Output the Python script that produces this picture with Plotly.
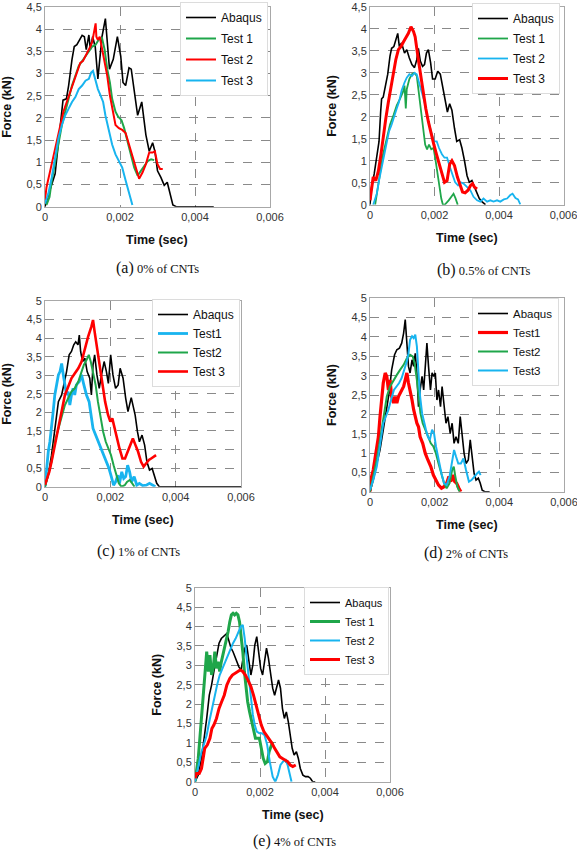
import plotly.graph_objects as go

# ---------------- data: (time in ms, force in kN) ----------------
# (a) 0% of CNTs
A_ABAQUS = [(0,0),(0.06,0.15),(0.13,0.37),(0.27,0.74),(0.36,1.47),(0.42,2.06),(0.48,2.4),(0.57,2.43),(0.63,2.73),
            (0.72,3.32),(0.78,3.61),(0.85,3.65),(0.92,3.76),(0.99,3.86),(1.05,3.83),(1.1,3.54),(1.17,3.87),(1.21,3.54),
            (1.27,3.83),(1.34,3.6),(1.41,2.88),(1.52,3.83),(1.61,4.24),(1.66,3.76),(1.72,3.1),(1.82,3.32),(1.93,3.83),
            (2.02,3.39),(2.08,2.8),(2.15,2.73),(2.24,3.13),(2.3,3.1),(2.38,2.58),(2.47,2.06),(2.58,2.36),(2.69,1.62),
            (2.78,1.25),(2.87,1.44),(2.93,1.25),(3.0,0.81),(3.09,0.66),(3.18,0.48),(3.26,0.55),(3.35,0.22),(3.41,0.04),
            (3.5,0),(4.5,0)]
A_TEST1 = [(0.04,0.04),(0.12,0.22),(0.18,0.59),(0.27,1.03),(0.36,1.47),(0.45,1.84),(0.54,2.14),(0.63,2.43),(0.72,2.73),
           (0.81,2.95),(0.9,3.17),(0.99,3.28),(1.08,3.39),(1.17,3.5),(1.26,3.61),(1.35,3.65),(1.43,3.76),(1.52,3.8),
           (1.59,3.54),(1.66,3.1),(1.73,2.8),(1.79,2.43),(1.88,2.14),(1.95,2.03),(2.04,1.95),(2.11,1.77),(2.2,1.47),
           (2.29,1.18),(2.38,0.88),(2.47,0.7),(2.56,0.81),(2.65,0.92),(2.74,1.03),(2.83,1.07),(2.91,1.05)]
A_TEST2 = [(0,0.15),(0.04,0.44),(0.12,0.74),(0.18,0.96),(0.24,1.18),(0.31,1.47),(0.4,1.84),(0.49,2.14),(0.58,2.36),
           (0.67,2.58),(0.76,2.8),(0.85,3.06),(0.94,3.24),(1.01,3.28),(1.08,3.39),(1.17,3.54),(1.21,3.61),(1.26,3.72),
           (1.3,3.91),(1.35,4.13),(1.37,3.83),(1.41,3.76),(1.46,3.83),(1.51,3.61),(1.57,3.32),(1.66,2.95),(1.73,2.51),
           (1.79,2.21),(1.88,1.84),(1.97,1.77),(2.06,1.73),(2.15,1.66),(2.24,1.4),(2.33,1.11),(2.42,0.85),(2.51,0.63),
           (2.6,0.77),(2.69,0.96),(2.78,1.22),(2.87,1.22),(2.93,1.25),(3.0,0.96),(3.07,0.85),(3.14,0.85)]
A_TEST3 = [(0,0.07),(0.09,0.3),(0.18,0.66),(0.27,1.1),(0.36,1.55),(0.45,1.84),(0.54,2.06),(0.63,2.21),(0.72,2.36),
           (0.81,2.47),(0.9,2.65),(0.99,2.73),(1.08,2.84),(1.17,2.88),(1.23,3.02),(1.28,3.06),(1.35,2.8),(1.41,2.65),
           (1.48,2.51),(1.55,2.36),(1.61,2.06),(1.7,1.7),(1.79,1.4),(1.88,1.18),(1.97,1.03),(2.06,0.88),(2.15,0.59),
           (2.24,0.3),(2.33,0.04)]

# (b) 0.5% of CNTs
B_ABAQUS = [(0,0),(0.05,0.4),(0.13,0.7),(0.21,1.07),(0.28,1.44),(0.33,2.11),(0.36,2.41),(0.41,2.45),(0.49,2.71),
            (0.55,2.97),(0.62,3.38),(0.67,3.56),(0.74,3.6),(0.8,3.75),(0.86,3.9),(0.91,3.6),(0.98,3.68),(1.07,3.45),
            (1.14,3.53),(1.22,3.34),(1.3,3.19),(1.38,3.12),(1.45,3.3),(1.5,3.56),(1.56,3.27),(1.63,3.15),(1.69,3.19),
            (1.75,3.45),(1.81,3.53),(1.88,3.23),(1.94,2.86),(2.02,2.86),(2.1,3.04),(2.18,2.97),(2.25,2.71),(2.33,2.34),
            (2.4,2.11),(2.47,2.3),(2.54,2.15),(2.62,1.74),(2.69,1.44),(2.78,1.48),(2.85,1.29),(2.93,1.0),(3.01,0.66),
            (3.08,0.51),(3.16,0.55),(3.24,0.4),(3.32,0.25),(3.39,0.14),(3.47,0.07),(3.58,0)]
B_TEST1 = [(0.16,0),(0.24,0.33),(0.31,0.7),(0.38,1.07),(0.47,1.37),(0.55,1.59),(0.62,1.82),(0.73,2.04),(0.83,2.26),
           (0.93,2.41),(1.02,2.56),(1.07,2.71),(1.11,2.19),(1.14,2.63),(1.22,2.86),(1.3,2.97),(1.38,3.0),(1.45,2.93),
           (1.5,2.63),(1.56,2.26),(1.61,1.89),(1.66,1.59),(1.71,1.37),(1.77,1.26),(1.83,1.37),(1.9,1.26),(1.97,1.29),
           (2.02,1.07),(2.08,0.77),(2.15,0.4),(2.21,0.14),(2.26,0),(2.33,0.01),(2.44,0.1),(2.52,0.18),(2.59,0.25),
           (2.65,0.15),(2.72,0)]
B_TEST2 = [(0.1,0),(0.21,0.25),(0.28,0.55),(0.36,0.85),(0.45,1.22),(0.52,1.44),(0.59,1.67),(0.67,1.82),(0.76,2.0),
           (0.83,2.19),(0.9,2.34),(0.98,2.6),(1.07,2.78),(1.14,2.89),(1.22,2.97),(1.3,2.93),(1.38,3.0),(1.45,2.97),
           (1.52,2.78),(1.61,2.56),(1.69,2.34),(1.76,2.04),(1.83,1.82),(1.92,1.59),(2.0,1.44),(2.07,1.44),(2.14,1.29),
           (2.23,1.15),(2.31,1.07),(2.39,1.07),(2.48,0.85),(2.56,0.66),(2.64,0.51),(2.73,0.44),(2.81,0.51),(2.9,0.48),
           (3.01,0.4),(3.11,0.33),(3.21,0.18),(3.32,0.1),(3.42,0.07),(3.52,0.14),(3.63,0.07),(3.73,0.1),(3.83,0.07),
           (3.94,0.1),(4.04,0.07),(4.15,0.12),(4.25,0.14),(4.35,0.22),(4.42,0.25),(4.51,0.15),(4.59,0.12),(4.66,0.01)]
B_TEST3 = [(0,0.1),(0.05,0.4),(0.1,0.63),(0.18,0.55),(0.26,0.77),(0.34,1.15),(0.41,1.59),(0.49,1.96),(0.57,2.34),
           (0.65,2.71),(0.73,3.08),(0.8,3.3),(0.88,3.53),(0.96,3.6),(1.04,3.71),(1.11,3.79),(1.19,3.9),(1.27,4.05),
           (1.35,3.94),(1.4,3.82),(1.45,3.6),(1.5,3.3),(1.59,2.86),(1.66,2.49),(1.73,2.19),(1.81,1.89),(1.9,1.59),
           (1.98,1.37),(2.06,1.15),(2.15,0.92),(2.23,0.7),(2.31,0.51),(2.39,0.55),(2.47,0.92),(2.54,1.0),(2.62,0.89),
           (2.71,0.63),(2.79,0.44),(2.87,0.29),(2.95,0.27),(3.04,0.33),(3.12,0.44),(3.18,0.48),(3.24,0.4),(3.32,0.36)]

# (c) 1% of CNTs
C_ABAQUS = [(0,0),(0.1,0.31),(0.2,0.85),(0.3,1.57),(0.41,2.29),(0.51,2.47),(0.58,2.74),(0.66,3.1),(0.74,3.55),
            (0.81,3.64),(0.88,3.82),(0.94,3.9),(1.01,3.82),(1.05,4.08),(1.09,3.64),(1.15,3.37),(1.22,3.46),(1.29,3.1),
            (1.37,2.92),(1.42,2.47),(1.47,3.28),(1.52,3.55),(1.59,3.01),(1.66,2.65),(1.73,3.01),(1.81,3.37),(1.88,3.1),
            (1.94,2.78),(2.01,3.55),(2.08,3.01),(2.16,2.65),(2.24,2.74),(2.3,3.19),(2.39,2.92),(2.47,2.38),(2.54,2.02),
            (2.64,2.4),(2.7,2.2),(2.76,1.93),(2.83,1.48),(2.89,1.21),(2.97,1.39),(3.05,1.12),(3.12,0.67),(3.2,0.45),
            (3.28,0.49),(3.35,0.27),(3.42,0.09),(3.5,0),(6.0,0)]
C_TEST1 = [(0,0),(0.05,0.49),(0.1,0.94),(0.15,1.21),(0.2,1.57),(0.25,2.02),(0.3,2.47),(0.36,2.74),(0.41,3.01),
           (0.46,3.1),(0.51,3.32),(0.56,3.01),(0.61,2.74),(0.66,2.47),(0.71,2.56),(0.76,2.2),(0.81,2.47),(0.86,2.65),
           (0.91,2.47),(0.96,2.74),(1.05,2.83),(1.12,3.01),(1.19,2.74),(1.27,2.47),(1.35,2.29),(1.42,1.93),(1.47,1.57),
           (1.55,1.39),(1.63,1.21),(1.72,1.03),(1.8,0.85),(1.88,0.67),(1.96,0.49),(2.03,0.27),(2.1,0.04),(2.16,0.13),
           (2.23,0.31),(2.28,0.09),(2.35,0.4),(2.41,0.22),(2.47,0.27),(2.53,0.58),(2.59,0.4),(2.65,0.13),(2.73,0.27),
           (2.81,0.04),(2.89,0.09),(2.99,0.03),(3.1,0.04),(3.2,0.09),(3.3,0.04),(3.38,0)]
C_TEST2 = [(0,0),(0.1,0.31),(0.2,0.67),(0.3,1.21),(0.41,1.57),(0.51,1.93),(0.61,2.2),(0.71,2.38),(0.81,2.56),
           (0.91,2.65),(1.02,2.83),(1.12,3.1),(1.19,3.28),(1.27,3.41),(1.34,3.55),(1.4,3.37),(1.47,3.1),(1.55,2.74),
           (1.62,2.29),(1.7,1.84),(1.78,1.48),(1.86,1.21),(1.94,1.03),(2.02,0.85),(2.1,0.58),(2.18,0.31),(2.26,0.09),
           (2.34,0),(2.44,0.04),(2.51,0.13),(2.59,0.18),(2.67,0.09),(2.74,0)]
C_TEST3 = [(0,0.05),(0.05,0.18),(0.13,0.4),(0.2,0.67),(0.3,1.12),(0.41,1.57),(0.51,2.11),(0.61,2.47),(0.71,2.69),
           (0.81,2.92),(0.91,3.05),(1.02,3.19),(1.12,3.37),(1.22,3.73),(1.32,4.04),(1.42,4.31),(1.47,4.49),(1.52,4.17),
           (1.59,3.73),(1.68,3.19),(1.76,2.65),(1.84,2.29),(1.93,1.93),(2.0,1.75),(2.06,1.84),(2.13,1.57),(2.2,1.3),
           (2.28,1.03),(2.37,0.76),(2.45,0.76),(2.53,0.94),(2.61,1.12),(2.69,1.3),(2.77,1.12),(2.85,0.94),(2.94,0.67),
           (3.02,0.54),(3.1,0.63),(3.18,0.72),(3.25,0.76),(3.32,0.81),(3.4,0.85)]

# (d) 2% of CNTs
D_ABAQUS = [(0,0),(0.1,0.3),(0.21,0.73),(0.31,1.08),(0.41,1.6),(0.52,2.2),(0.59,2.55),(0.67,3.15),(0.76,3.54),
            (0.83,3.67),(0.91,3.71),(0.98,3.84),(1.04,4.1),(1.09,4.45),(1.14,3.93),(1.19,3.24),(1.24,3.07),(1.3,3.41),
            (1.35,3.24),(1.4,3.58),(1.45,3.07),(1.5,2.2),(1.55,2.63),(1.61,2.98),(1.66,2.63),(1.71,3.41),(1.76,3.84),
            (1.81,3.24),(1.87,2.63),(1.92,3.07),(1.97,2.98),(2.02,3.07),(2.07,2.37),(2.12,2.63),(2.18,2.2),(2.23,2.72),
            (2.29,2.29),(2.35,1.77),(2.41,1.94),(2.48,1.51),(2.54,1.77),(2.6,1.25),(2.66,1.42),(2.73,1.25),(2.79,1.94),
            (2.85,1.51),(2.91,0.99),(2.97,0.73),(3.04,0.82),(3.1,1.34),(3.16,0.91),(3.22,0.47),(3.28,0.3),(3.35,0.35),
            (3.41,0.22),(3.47,0.04),(3.55,0),(3.7,0)]
D_TEST1 = [(0,0),(0.05,0.39),(0.1,0.56),(0.16,0.91),(0.21,1.17),(0.26,1.42),(0.31,1.94),(0.36,2.46),(0.41,2.81),
           (0.47,3.07),(0.52,2.98),(0.57,2.63),(0.62,2.89),(0.67,2.46),(0.73,2.29),(0.78,2.46),(0.83,2.29),(0.88,2.46),
           (0.93,2.55),(0.98,2.63),(1.04,2.72),(1.09,2.89),(1.14,3.07),(1.19,2.81),(1.24,2.63),(1.3,2.37),(1.35,2.12),
           (1.4,1.94),(1.45,1.77),(1.5,1.68),(1.55,1.42),(1.63,1.25),(1.71,0.99),(1.79,0.82),(1.88,0.65),(1.96,0.43),
           (2.04,0.3),(2.12,0.17),(2.21,0.09),(2.29,0.13),(2.37,0.22),(2.44,0.39),(2.5,0.26),(2.56,0.43),(2.62,0.26),
           (2.68,0.22),(2.75,0.09),(2.81,0)]
D_TEST2 = [(0,0),(0.1,0.39),(0.21,0.82),(0.31,1.34),(0.41,1.94),(0.52,2.46),(0.62,2.72),(0.73,2.89),(0.83,3.02),
           (0.93,3.15),(1.04,3.28),(1.14,3.45),(1.24,3.54),(1.32,3.5),(1.38,3.32),(1.45,2.89),(1.5,2.46),(1.56,2.03),
           (1.63,1.77),(1.71,1.6),(1.79,1.42),(1.88,1.25),(1.96,1.17),(2.04,0.99),(2.12,0.73),(2.21,0.47),(2.29,0.22),
           (2.37,0.09),(2.46,0.22),(2.54,0.56),(2.59,0.65),(2.64,0.39),(2.7,0.13),(2.77,0)]
D_TEST3 = [(0,0.04),(0.1,0.3),(0.21,0.65),(0.31,1.17),(0.41,1.77),(0.49,1.94),(0.57,2.12),(0.65,2.37),(0.74,2.63),
           (0.82,2.72),(0.9,2.81),(0.98,2.94),(1.07,3.15),(1.14,3.37),(1.19,3.58),(1.24,3.93),(1.3,4.02),(1.35,3.97),
           (1.4,4.06),(1.45,3.76),(1.5,3.07),(1.55,2.46),(1.61,2.03),(1.67,1.77),(1.73,1.6),(1.79,1.42),(1.85,1.34),
           (1.92,1.6),(1.98,1.51),(2.04,1.17),(2.12,0.82),(2.21,0.47),(2.29,0.22),(2.37,0.17),(2.46,0.39),(2.54,0.73),
           (2.6,1.08),(2.66,0.91),(2.73,0.73),(2.81,0.73),(2.89,0.86),(2.97,0.56),(3.06,0.26),(3.14,0.3),(3.22,0.39),
           (3.31,0.47),(3.37,0.52),(3.42,0.43)]

# (e) 4% of CNTs
E_ABAQUS = [(0,0),(0.1,0.17),(0.2,0.6),(0.27,1.03),(0.36,1.63),(0.44,2.23),(0.51,2.49),(0.58,2.84),(0.66,3.26),
            (0.74,3.57),(0.81,3.69),(0.91,3.78),(0.98,3.82),(1.05,3.61),(1.11,3.44),(1.17,3.35),(1.23,3.22),(1.29,3.14),
            (1.35,2.96),(1.42,2.88),(1.47,3.18),(1.53,3.44),(1.59,3.52),(1.65,3.18),(1.72,2.75),(1.78,3.01),(1.84,3.52),
            (1.9,3.74),(1.96,3.35),(2.02,2.92),(2.08,2.75),(2.14,3.09),(2.2,3.44),(2.26,3.18),(2.32,2.75),(2.39,2.41),
            (2.45,2.23),(2.51,2.41),(2.57,2.62),(2.63,2.41),(2.69,1.89),(2.75,1.63),(2.81,1.8),(2.87,1.55),(2.93,1.2),
            (2.99,0.86),(3.05,0.69),(3.12,0.77),(3.18,0.6),(3.24,0.34),(3.32,0.17),(3.4,0.13),(3.48,0.13),(3.55,0.09),
            (3.62,0),(3.7,0)]
E_TEST1 = [(0,0),(0.05,0.26),(0.1,0.6),(0.15,1.12),(0.2,1.63),(0.25,2.23),(0.3,2.84),(0.36,3.35),(0.41,2.84),
           (0.46,3.26),(0.51,2.75),(0.56,2.92),(0.61,3.35),(0.66,2.92),(0.71,3.09),(0.76,2.84),(0.81,3.09),(0.86,3.26),
           (0.91,3.44),(0.96,3.61),(1.02,3.87),(1.07,4.12),(1.12,4.3),(1.17,4.34),(1.22,4.3),(1.27,4.34),(1.32,4.3),
           (1.37,4.12),(1.42,3.78),(1.47,3.35),(1.52,2.84),(1.57,2.41),(1.62,2.06),(1.68,1.8),(1.74,1.55),(1.8,1.29),
           (1.86,1.12),(1.92,1.12),(1.98,1.12),(2.04,0.86),(2.1,0.6),(2.16,0.47),(2.23,0.52),(2.28,0.77),(2.35,0.95),
           (2.39,1.03)]
E_TEST2 = [(0,0),(0.1,0.43),(0.2,0.77),(0.27,0.95),(0.36,1.2),(0.44,1.55),(0.52,1.89),(0.6,2.23),(0.68,2.49),
           (0.76,2.75),(0.84,2.92),(0.92,3.09),(1.01,3.26),(1.09,3.44),(1.17,3.57),(1.25,3.69),(1.33,3.87),(1.41,4.0),
           (1.47,4.04),(1.53,3.69),(1.59,3.18),(1.65,2.66),(1.72,2.15),(1.78,1.72),(1.84,1.46),(1.9,1.29),(1.98,1.25),
           (2.06,1.25),(2.14,1.2),(2.22,0.95),(2.3,0.52),(2.39,0.13),(2.47,0),(2.55,0.17),(2.63,0.43),(2.71,0.52),
           (2.79,0.56),(2.85,0.43),(2.91,0.21),(2.97,0)]
E_TEST3 = [(0,0.09),(0.05,0.21),(0.13,0.21),(0.2,0.34),(0.25,0.6),(0.3,0.86),(0.38,0.95),(0.46,1.12),(0.52,1.37),
           (0.58,1.46),(0.66,1.63),(0.74,1.89),(0.82,2.06),(0.9,2.23),(0.98,2.49),(1.07,2.66),(1.15,2.75),(1.23,2.79),
           (1.31,2.85),(1.39,2.88),(1.47,2.84),(1.55,2.75),(1.63,2.62),(1.72,2.45),(1.8,2.23),(1.88,1.98),(1.96,1.72),
           (2.04,1.46),(2.12,1.29),(2.2,1.2),(2.28,1.12),(2.37,0.99),(2.45,0.86),(2.53,0.73),(2.61,0.64),(2.69,0.6),
           (2.77,0.56),(2.85,0.52),(2.93,0.43),(3.01,0.39),(3.1,0.43)]

X_TICKVALS = [0, 0.002, 0.004, 0.006]
X_TICKTEXT = ["0", "0,002", "0,004", "0,006"]
Y_TICKVALS_45 = [0, 0.5, 1, 1.5, 2, 2.5, 3, 3.5, 4, 4.5]
Y_TICKTEXT_45 = ["0", "0,5", "1", "1,5", "2", "2,5", "3", "3,5", "4", "4,5"]
Y_TICKVALS_5 = [0, 0.5, 1, 1.5, 2, 2.5, 3, 3.5, 4, 4.5, 5]
Y_TICKTEXT_5 = ["0", "0,5", "1", "1,5", "2", "2,5", "3", "3,5", "4", "4,5", "5"]

BLACK = "#000000"
GREEN = "#1fa64a"
RED = "#ff0000"
BLUE = "#18b4ef"

W, H = 577, 850
def px(x): return x / W
def py(y): return 1 - y / H

PANELS = [
    dict(box=(45, 7, 270, 206.7), ymax=4.5, caption=("(a)", "0% of CNTs"), cap_xy=(157, 268),
         leg=(268, 2), legfont=12, gap=2,
         series=[("Abaqus", A_ABAQUS, BLACK, 1.6), ("Test 1", A_TEST1, GREEN, 2.0),
                 ("Test 2", A_TEST2, RED, 2.0), ("Test 3", A_TEST3, BLUE, 2.0)]),
    dict(box=(370, 7, 563.5, 204.7), ymax=4.5, caption=("(b)", "0.5% of CNTs"), cap_xy=(484, 270),
         leg=(560, 3), legfont=12, gap=1,
         series=[("Abaqus", B_ABAQUS, BLACK, 1.6), ("Test 1", B_TEST1, GREEN, 1.8),
                 ("Test 2", B_TEST2, BLUE, 1.8), ("Test 3", B_TEST3, RED, 3.0)]),
    dict(box=(45, 301, 241, 486.7), ymax=5, caption=("(c)", "1% of CNTs"), cap_xy=(138, 551),
         leg=(240, 299), legfont=12, gap=0,
         series=[("Abaqus", C_ABAQUS, BLACK, 1.6), ("Test1", C_TEST1, BLUE, 2.8),
                 ("Test2", C_TEST2, GREEN, 2.0), ("Test 3", C_TEST3, RED, 2.6)]),
    dict(box=(370, 298.3, 564, 491.7), ymax=5, caption=("(d)", "2% of CNTs"), cap_xy=(466, 553),
         leg=(559, 298), legfont=11.5, gap=0,
         series=[("Abaqus", D_ABAQUS, BLACK, 1.6), ("Test1", D_TEST1, RED, 3.2),
                 ("Test2", D_TEST2, GREEN, 2.0), ("Test3", D_TEST3, BLUE, 2.0)]),
    dict(box=(195, 587.7, 390, 781.7), ymax=5, caption=("(e)", "4% of CNTs"), cap_xy=(294, 841),
         leg=(389, 587), legfont=11, gap=0,
         series=[("Abaqus", E_ABAQUS, BLACK, 1.6), ("Test 1", E_TEST1, GREEN, 3.0),
                 ("Test 2", E_TEST2, BLUE, 2.0), ("Test 3", E_TEST3, RED, 3.0)]),
]

FONT = "Liberation Sans, Arial, sans-serif"
SERIF = "Liberation Serif, Times New Roman, serif"

fig = go.Figure()
annotations = []
layout = dict(width=W, height=H, autosize=False, margin=dict(l=0, r=0, t=0, b=0, pad=0),
              paper_bgcolor="white", plot_bgcolor="white", showlegend=True,
              font=dict(family=FONT, color="#222"))

for i, p in enumerate(PANELS, start=1):
    sfx = "" if i == 1 else str(i)
    x0, y0, x1, y1 = p["box"]
    legname = "legend" if i == 1 else f"legend{i}"
    for k, (name, pts, col, lw) in enumerate(p["series"]):
        fig.add_trace(go.Scatter(
            x=[t / 1000 for t, f in pts], y=[f for t, f in pts], mode="lines", name=name,
            line=dict(color=col, width=lw), xaxis="x" + sfx, yaxis="y" + sfx, legend=legname,
            legendgroup=f"p{i}s{k}", hoverinfo="skip"))
    if p["ymax"] == 4.5:
        yv, yt = Y_TICKVALS_45, Y_TICKTEXT_45
    else:
        yv, yt = Y_TICKVALS_5, Y_TICKTEXT_5
    axis_common = dict(showgrid=True, gridcolor="#8a8a8a", griddash="dash", gridwidth=1,
                       zeroline=False, showline=True, mirror=True, linecolor="#a8a8a8", linewidth=1,
                       ticks="", automargin=False, ticklabeloverflow="allow",
                       tickfont=dict(family=FONT, size=11, color="#333"), fixedrange=True)
    layout["xaxis" + sfx] = dict(axis_common, domain=[px(x0), px(x1)], range=[0, 0.006],
                                 tickvals=X_TICKVALS, ticktext=X_TICKTEXT, anchor="y" + sfx)
    layout["yaxis" + sfx] = dict(axis_common, domain=[py(y1), py(y0)], range=[0, p["ymax"]],
                                 tickvals=yv, ticktext=yt, anchor="x" + sfx)
    lx, ly = p["leg"]
    layout[legname] = dict(x=px(lx), y=py(ly), xanchor="right", yanchor="top", bgcolor="white",
                           bordercolor="#dcdcdc", borderwidth=1, itemwidth=30,
                           traceorder="grouped", tracegroupgap=p["gap"],
                           font=dict(family=FONT, size=p["legfont"], color="#111"))
    cx = (x0 + x1) / 2
    cy = (y0 + y1) / 2
    annotations.append(dict(text="<b>Force (kN)</b>", x=px(x0 - 38), y=py(cy), xref="paper", yref="paper",
                            textangle=-90, showarrow=False, xanchor="center", yanchor="middle",
                            font=dict(family=FONT, size=12.5, color="#111")))
    annotations.append(dict(text="<b>Time (sec)</b>", x=px(cx), y=py(y1 + 33), xref="paper", yref="paper",
                            showarrow=False, xanchor="center", yanchor="middle",
                            font=dict(family=FONT, size=12.5, color="#111")))
    lab, txt = p["caption"]
    capx, capy = p["cap_xy"]
    annotations.append(dict(text=f"<span style='font-size:16px'>{lab}</span> {txt}", x=px(capx), y=py(capy),
                            xref="paper", yref="paper", showarrow=False, xanchor="center", yanchor="middle",
                            font=dict(family=SERIF, size=12.5, color="#111")))

layout["annotations"] = annotations
fig.update_layout(**layout)
# remove the browser's default 8px body margin so the 577x850 figure sits at the window origin
fig.write_html("out.html", config={"displayModeBar": False},
               post_script="document.body.style.margin='0';document.body.style.padding='0';")
